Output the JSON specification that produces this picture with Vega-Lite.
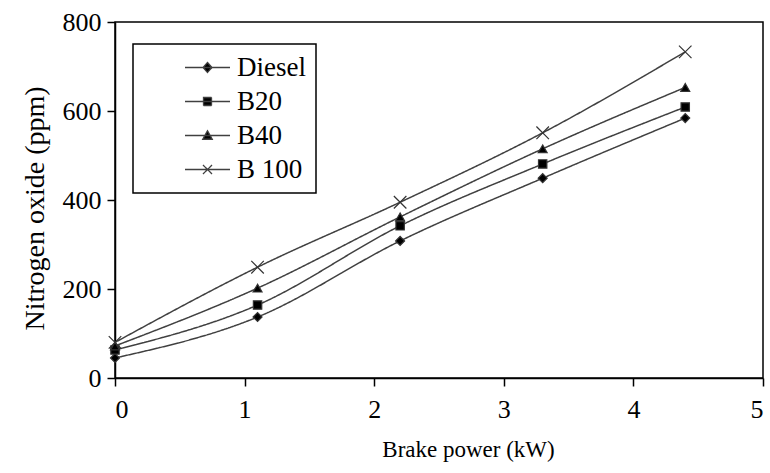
{
  "$schema": "https://vega.github.io/schema/vega-lite/v6.json",
  "width": 648,
  "height": 356,
  "autosize": {"type": "none"},
  "padding": {"left": 115, "top": 22, "right": 7, "bottom": 95},
  "background": "white",
  "config": {
    "font": "Liberation Serif",
    "view": {"stroke": "black", "strokeWidth": 1.5},
    "axis": {
      "grid": false,
      "domainColor": "black",
      "domainWidth": 1.5,
      "tickColor": "black",
      "tickWidth": 1.5,
      "tickSize": 8,
      "labelFont": "Liberation Serif",
      "labelFontSize": 26,
      "labelColor": "black",
      "titleFont": "Liberation Serif",
      "titleFontWeight": "normal",
      "titleColor": "black"
    },
    "legend": {
      "labelFont": "Liberation Serif",
      "labelFontSize": 27,
      "labelColor": "black"
    }
  },
  "data": {
    "values": [
      {"power": 0, "nox": 45, "fuel": "Diesel"},
      {"power": 1.1, "nox": 137, "fuel": "Diesel"},
      {"power": 2.2, "nox": 308, "fuel": "Diesel"},
      {"power": 3.3, "nox": 449, "fuel": "Diesel"},
      {"power": 4.4, "nox": 584, "fuel": "Diesel"},
      {"power": 0, "nox": 63, "fuel": "B20"},
      {"power": 1.1, "nox": 164, "fuel": "B20"},
      {"power": 2.2, "nox": 342, "fuel": "B20"},
      {"power": 3.3, "nox": 481, "fuel": "B20"},
      {"power": 4.4, "nox": 609, "fuel": "B20"},
      {"power": 0, "nox": 72, "fuel": "B40"},
      {"power": 1.1, "nox": 202, "fuel": "B40"},
      {"power": 2.2, "nox": 362, "fuel": "B40"},
      {"power": 3.3, "nox": 515, "fuel": "B40"},
      {"power": 4.4, "nox": 653, "fuel": "B40"},
      {"power": 0, "nox": 80, "fuel": "B 100"},
      {"power": 1.1, "nox": 249, "fuel": "B 100"},
      {"power": 2.2, "nox": 395, "fuel": "B 100"},
      {"power": 3.3, "nox": 551, "fuel": "B 100"},
      {"power": 4.4, "nox": 733, "fuel": "B 100"}
    ]
  },
  "encoding": {
    "x": {
      "field": "power",
      "type": "quantitative",
      "scale": {"domain": [0, 5], "nice": false, "zero": false},
      "axis": {"values": [0, 1, 2, 3, 4, 5], "title": "Brake power (kW)", "titleFontSize": 23, "titleX": 353, "titleAlign": "center", "labelPadding": 10, "titlePadding": 16}
    },
    "y": {
      "field": "nox",
      "type": "quantitative",
      "scale": {"domain": [0, 800], "nice": false},
      "axis": {"values": [0, 200, 400, 600, 800], "title": "Nitrogen oxide (ppm)", "titleFontSize": 28, "titleY": 186, "titleAlign": "center", "labelPadding": 6, "titlePadding": 13}
    }
  },
  "layer": [
    {
      "mark": {"type": "line", "interpolate": "monotone", "color": "#404040", "strokeWidth": 1.5},
      "encoding": {
        "strokeDash": {
          "field": "fuel",
          "type": "nominal",
          "scale": {"domain": ["Diesel", "B20", "B40", "B 100"], "range": [[1, 0], [1, 0], [1, 0], [1, 0]]},
          "legend": {
            "title": null,
            "orient": "none",
            "legendX": 18,
            "legendY": 22,
            "strokeColor": "black",
            "fillColor": "white",
            "padding": 10,
            "rowPadding": 6,
            "symbolOffset": 51,
            "labelOffset": 16,
            "symbolSize": 100,
            "symbolType": "square",
            "encoding": {
              "legend": {"strokeWidth": {"value": 1.5}},
              "entries": {"width": {"value": 191}},
              "symbols": {
                "shape": {"value": {"expr": "datum.value === 'Diesel' ? 'M-4.5,0H4.5M0,-1L0.9,0L0,1L-0.9,0Z' : datum.value === 'B20' ? 'M-4.5,0H4.5M-0.8,-0.8H0.8V0.8H-0.8Z' : datum.value === 'B40' ? 'M-4.5,0H4.5M0,-0.95L0.95,0.75H-0.95Z' : 'M-4.5,0H4.5M-0.9,-0.9L0.9,0.9M-0.9,0.9L0.9,-0.9'"}},
                "fill": {"value": "black"},
                "stroke": {"value": "#404040"},
                "strokeWidth": {"value": 1.3},
                "opacity": {"value": 1}
              }
            }
          }
        }
      }
    },
    {
      "transform": [{"filter": "datum.fuel === 'Diesel'"}],
      "mark": {"type": "point", "shape": "diamond", "filled": true, "fill": "black", "stroke": "#333333", "strokeWidth": 1.2, "size": 80, "opacity": 1}
    },
    {
      "transform": [{"filter": "datum.fuel === 'B20'"}],
      "mark": {"type": "point", "shape": "square", "filled": true, "fill": "black", "stroke": "#333333", "strokeWidth": 1.2, "size": 70, "opacity": 1}
    },
    {
      "transform": [{"filter": "datum.fuel === 'B40'"}],
      "mark": {"type": "point", "shape": "triangle-up", "filled": true, "fill": "black", "stroke": "#333333", "strokeWidth": 1.2, "size": 80, "opacity": 1}
    },
    {
      "transform": [{"filter": "datum.fuel === 'B 100'"}],
      "mark": {"type": "point", "shape": "M-1.4,-1.4L1.4,1.4M-1.4,1.4L1.4,-1.4", "filled": false, "stroke": "#333333", "strokeWidth": 1.2, "size": 80, "opacity": 1}
    }
  ]
}
